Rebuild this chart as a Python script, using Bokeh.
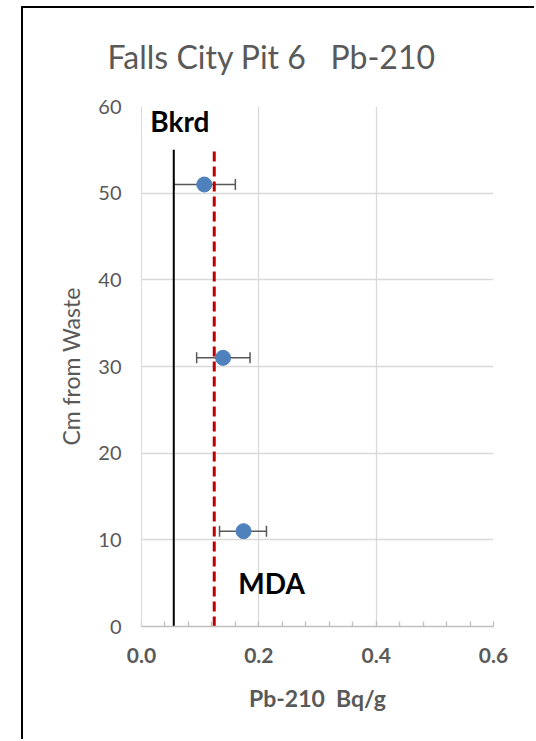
import numpy as np
from bokeh.plotting import figure
from bokeh.models import (Whisker, TeeHead, ColumnDataSource, Label, FixedTicker,
                          NumeralTickFormatter, Range1d)
from bokeh.embed import file_html
from bokeh.resources import INLINE

# ---- data ----
depth_cm = [51, 31, 11]
pb210_bq_g = [0.107, 0.139, 0.174]
err_low = [0.055, 0.094, 0.133]
err_high = [0.160, 0.185, 0.213]
bkrd_level = [0.055, 0.055]
mda_level = [0.124, 0.124]
ref_line_depth = [0, 55]
x_ticks = [0.0, 0.2, 0.4, 0.6]
y_ticks = [0, 10, 20, 30, 40, 50, 60]

GRAY = "#595959"
FONT = "Lato"

LEFT_OFF, TOP_OFF = 23, 8
W, H = 536 - LEFT_OFF, 741 - TOP_OFF

p = figure(width=W, height=H, x_range=Range1d(0, 0.6), y_range=Range1d(0, 60),
           output_backend="svg", toolbar_location=None,
           min_border_left=141 - LEFT_OFF, min_border_right=536 - 493,
           min_border_top=106 - TOP_OFF, min_border_bottom=741 - 626)
p.margin = (6, 0, 0, 21)
p.styles = {"border-left": "2px solid #000", "border-top": "2px solid #000"}
p.outline_line_color = None
p.background_fill_color = "white"
p.border_fill_color = "white"

# title
p.title.text = "Falls City Pit 6\u00a0\u00a0 Pb-210"
p.title.align = "left"
p.title.offset = -34
p.title.vertical_align = "top"
p.title.standoff = 57
p.title.text_font = FONT
p.title.text_font_style = "normal"
p.title.text_font_size = "32px"
p.title.text_color = GRAY

# grid
minor = list(np.round(np.linspace(x_ticks[0], x_ticks[-1], 16), 4))
p.xgrid.ticker = FixedTicker(ticks=x_ticks)
p.ygrid.ticker = FixedTicker(ticks=y_ticks)
p.grid.grid_line_color = "#d9d9d9"
p.grid.grid_line_width = 1.3

# x axis
xa = p.xaxis[0]
xa.ticker = FixedTicker(ticks=x_ticks, minor_ticks=minor)
xa.formatter = NumeralTickFormatter(format="0.0")
xa.axis_line_color = "#bfbfbf"
xa.axis_line_width = 1.5
xa.major_tick_out = 0
xa.major_tick_in = 5
xa.major_tick_line_color = "#bfbfbf"
xa.minor_tick_out = 0
xa.minor_tick_in = 5
xa.minor_tick_line_color = "#bfbfbf"
xa.minor_tick_line_width = 1.3
xa.major_label_text_font = FONT
xa.major_label_text_font_style = "bold"
xa.major_label_text_font_size = "21px"
xa.major_label_text_color = GRAY
xa.major_label_standoff = 21
xa.axis_label = "Pb-210\u00a0 Bq/g"
xa.axis_label_text_font = FONT
xa.axis_label_text_font_style = "bold"
xa.axis_label_text_font_size = "23px"
xa.axis_label_text_color = GRAY
xa.axis_label_standoff = 18

# y axis
ya = p.yaxis[0]
ya.ticker = FixedTicker(ticks=y_ticks)
ya.axis_line_color = "#d9d9d9"
ya.major_tick_out = 0
ya.major_tick_in = 0
ya.minor_tick_out = 0
ya.minor_tick_in = 0
ya.major_label_text_font = FONT
ya.major_label_text_font_size = "20px"
ya.major_label_text_color = GRAY
ya.major_label_standoff = 20
ya.axis_label = "Cm from Waste"
ya.axis_label_text_font = FONT
ya.axis_label_text_font_style = "normal"
ya.axis_label_text_font_size = "23px"
ya.axis_label_text_color = GRAY
ya.axis_label_standoff = 10

# error bars
src = ColumnDataSource(dict(depth=depth_cm, x=pb210_bq_g, lo=err_low, hi=err_high))
w = Whisker(source=src, base="depth", lower="lo", upper="hi", dimension="width",
            line_color=GRAY, line_width=1.5,
            upper_head=TeeHead(size=11, line_color=GRAY, line_width=1.5),
            lower_head=TeeHead(size=11, line_color=GRAY, line_width=1.5))
w.level = "underlay"
p.add_layout(w)

# reference lines
p.line(bkrd_level, ref_line_depth, line_color="black", line_width=2)
p.line(mda_level, ref_line_depth, line_color="#c00000", line_width=3, line_dash="10 5")

# data points
p.scatter("x", "depth", source=src, size=15, fill_color="#4f81bd", line_color="#4f81bd")

# texts
p.add_layout(Label(x=0.015, y=58.3, text="Bkrd", text_font=FONT, text_font_style="bold",
                   text_font_size="28px", text_color="black", text_baseline="alphabetic"))
p.add_layout(Label(x=0.165, y=5.0, text="MDA", text_font=FONT, text_font_style="bold",
                   text_font_size="28px", text_color="black", text_baseline="alphabetic"))

open("out.html", "w").write(file_html(p, INLINE))
